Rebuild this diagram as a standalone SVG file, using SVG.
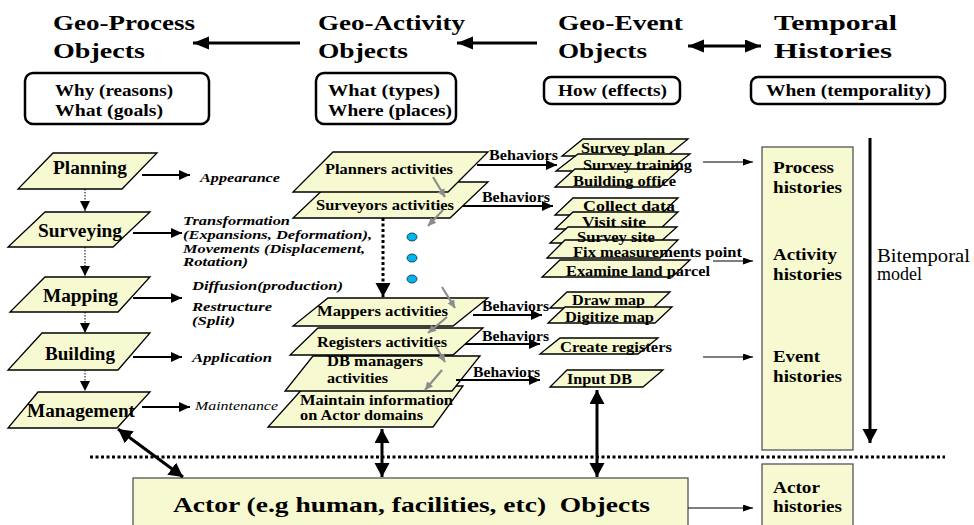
<svg xmlns="http://www.w3.org/2000/svg" width="974" height="525" viewBox="0 0 974 525">
<defs>
<style>
text{font-family:"Liberation Serif","Times New Roman",serif;fill:#000}
.hd{font-size:21px;font-weight:bold}
.bt{font-size:16px;font-weight:bold}
.nt{font-size:18px;font-weight:bold}
.mt{font-size:15px;font-weight:bold}
.rt{font-size:15px;font-weight:bold}
.bh{font-size:14.5px;font-weight:bold}
.it{font-size:13px;font-weight:bold;font-style:italic}
.ht{font-size:16px;font-weight:bold}
.bx{fill:#fff;stroke:#000;stroke-width:2.5}
.n{fill:#f7f9d0;stroke:#000;stroke-width:1.3}
.hb{fill:#f7f9d0;stroke:#555;stroke-width:1.3}
.a3{fill:none;stroke:#000;stroke-width:3}
.a2{fill:none;stroke:#000;stroke-width:2}
.a1{fill:none;stroke:#000;stroke-width:1.1}
.dt{fill:none;stroke:#000;stroke-width:1;stroke-dasharray:1.5,1.5}
.dk{fill:none;stroke:#000;stroke-width:3;stroke-dasharray:3,2.5}
.gr{fill:none;stroke:#8c8c8c;stroke-width:2.2}
.dot{fill:#00b4f0;stroke:#123;stroke-width:0.8}
</style>
<marker id="big" markerUnits="userSpaceOnUse" markerWidth="17" markerHeight="14" refX="16" refY="6.5" orient="auto-start-reverse"><path d="M0,0L16,6.5L0,13z"/></marker>
<marker id="med" markerUnits="userSpaceOnUse" markerWidth="12" markerHeight="11" refX="11" refY="5" orient="auto-start-reverse"><path d="M0,0L11,5L0,10z"/></marker>
<marker id="thk" markerUnits="userSpaceOnUse" markerWidth="15" markerHeight="16" refX="14" refY="7.5" orient="auto-start-reverse"><path d="M0,0L14,7.5L0,15z"/></marker>
<marker id="thin" markerUnits="userSpaceOnUse" markerWidth="11" markerHeight="8" refX="10" refY="3.5" orient="auto-start-reverse"><path d="M0,0L10,3.5L0,7z"/></marker>
<marker id="dtm" markerUnits="userSpaceOnUse" markerWidth="11" markerHeight="11" refX="10" refY="5" orient="auto-start-reverse"><path d="M0,0L10,5L0,10z"/></marker>
<marker id="gm" markerUnits="userSpaceOnUse" markerWidth="9" markerHeight="9" refX="8" refY="4" orient="auto-start-reverse"><path d="M0,0L8,4L0,8z" fill="#8c8c8c"/></marker>
</defs>
<rect width="974" height="525" fill="#fff"/>

<g id="headers">
<text class="hd" x="53" y="30" textLength="142" lengthAdjust="spacingAndGlyphs">Geo-Process</text>
<text class="hd" x="53" y="58" textLength="92" lengthAdjust="spacingAndGlyphs">Objects</text>
<text class="hd" x="318" y="30" textLength="147" lengthAdjust="spacingAndGlyphs">Geo-Activity</text>
<text class="hd" x="318" y="58" textLength="90" lengthAdjust="spacingAndGlyphs">Objects</text>
<text class="hd" x="558" y="30" textLength="125" lengthAdjust="spacingAndGlyphs">Geo-Event</text>
<text class="hd" x="558" y="58" textLength="89" lengthAdjust="spacingAndGlyphs">Objects</text>
<text class="hd" x="774" y="30" textLength="123" lengthAdjust="spacingAndGlyphs">Temporal</text>
<text class="hd" x="774" y="58" textLength="118" lengthAdjust="spacingAndGlyphs">Histories</text>
</g>

<g id="boxes">
<g id="box-why"><rect class="bx" x="25" y="73" width="184" height="51" rx="8"/>
<text class="bt" x="55" y="96" textLength="118" lengthAdjust="spacingAndGlyphs">Why (reasons)</text>
<text class="bt" x="55" y="116" textLength="108" lengthAdjust="spacingAndGlyphs">What (goals)</text></g>
<g id="box-what"><rect class="bx" x="316" y="73" width="140" height="51" rx="8"/>
<text class="bt" x="328" y="96" textLength="112" lengthAdjust="spacingAndGlyphs">What (types)</text>
<text class="bt" x="328" y="116" textLength="124" lengthAdjust="spacingAndGlyphs">Where (places)</text></g>
<g id="box-how"><rect class="bx" x="544" y="77" width="136" height="27" rx="7"/>
<text class="bt" x="558" y="96" textLength="109" lengthAdjust="spacingAndGlyphs">How (effects)</text></g>
<g id="box-when"><rect class="bx" x="751" y="77" width="194" height="27" rx="7"/>
<text class="bt" x="766" y="96" textLength="165" lengthAdjust="spacingAndGlyphs">When (temporality)</text></g>
</g>

<g id="process-nodes">
<g id="n-planning"><polygon class="n" points="53,153 157,153 122,189 18,189"/>
<text class="nt" x="53" y="174" textLength="74" lengthAdjust="spacingAndGlyphs">Planning</text></g>
<g id="n-surveying"><polygon class="n" points="45,212 150,212 113,247 8,247"/>
<text class="nt" x="38" y="237" textLength="84" lengthAdjust="spacingAndGlyphs">Surveying</text></g>
<g id="n-mapping"><polygon class="n" points="45,277 150,277 118,312 10,312"/>
<text class="nt" x="43" y="302" textLength="75" lengthAdjust="spacingAndGlyphs">Mapping</text></g>
<g id="n-building"><polygon class="n" points="42,333 150,333 118,370 8,370"/>
<text class="nt" x="45" y="360" textLength="70" lengthAdjust="spacingAndGlyphs">Building</text></g>
<g id="n-management"><polygon class="n" points="38,392 150,392 117,428 8,428"/>
<text class="nt" x="27" y="417" textLength="108" lengthAdjust="spacingAndGlyphs">Management</text></g>
</g>

<g id="effect-labels">
<text class="it" x="200" y="182" textLength="80" lengthAdjust="spacingAndGlyphs">Appearance</text>
<text class="it" x="183" y="225" textLength="107" lengthAdjust="spacingAndGlyphs">Transformation</text>
<text class="it" x="183" y="239" textLength="189" lengthAdjust="spacingAndGlyphs">(Expansions, Deformation),</text>
<text class="it" x="183" y="253" textLength="182" lengthAdjust="spacingAndGlyphs">Movements (Displacement,</text>
<text class="it" x="183" y="266" textLength="65" lengthAdjust="spacingAndGlyphs">Rotation)</text>
<text class="it" x="192" y="290" textLength="151" lengthAdjust="spacingAndGlyphs">Diffusion(production)</text>
<text class="it" x="192" y="311" textLength="80" lengthAdjust="spacingAndGlyphs">Restructure</text>
<text class="it" x="192" y="325" textLength="43" lengthAdjust="spacingAndGlyphs">(Split)</text>
<text class="it" x="192" y="362" textLength="80" lengthAdjust="spacingAndGlyphs">Application</text>
<text x="195" y="410" font-size="13" font-style="italic" textLength="83" lengthAdjust="spacingAndGlyphs">Maintenance</text>
</g>

<g id="activity-nodes">
<g id="n-maintain"><polygon class="n" points="305,386 463,386 433,427 268,427"/>
<text class="mt" x="300" y="405" font-size="14" textLength="153" lengthAdjust="spacingAndGlyphs" style="font-size:14px">Maintain information</text>
<text class="mt" x="300" y="420" textLength="123" lengthAdjust="spacingAndGlyphs" style="font-size:14px">on Actor domains</text></g>
<g id="n-dbmanagers"><polygon class="n" points="313,356 480,356 452,391 285,391"/>
<text class="mt" x="327" y="366" textLength="96" lengthAdjust="spacingAndGlyphs">DB managers</text>
<text class="mt" x="327" y="383" textLength="61" lengthAdjust="spacingAndGlyphs">activities</text></g>
<g id="n-registers"><polygon class="n" points="318,328 483,328 453,355 290,355"/>
<text class="mt" x="317" y="347" textLength="130" lengthAdjust="spacingAndGlyphs">Registers activities</text></g>
<g id="n-mappers"><polygon class="n" points="328,298 488,298 453,326 293,326"/>
<text class="mt" x="317" y="316" textLength="131" lengthAdjust="spacingAndGlyphs">Mappers activities</text></g>
<g id="n-surveyors"><polygon class="n" points="331,182 488,182 450,218 293,218"/>
<text class="mt" x="316" y="210" textLength="138" lengthAdjust="spacingAndGlyphs">Surveyors activities</text></g>
<g id="n-planners"><polygon class="n" points="333,152 488,152 448,192 293,192"/>
<text class="mt" x="325" y="174" textLength="128" lengthAdjust="spacingAndGlyphs">Planners activities</text></g>
<g id="ellipsis">
<ellipse class="dot" cx="412" cy="237" rx="5" ry="4"/>
<ellipse class="dot" cx="412" cy="258" rx="5" ry="4"/>
<ellipse class="dot" cx="412" cy="279" rx="5" ry="4"/>
</g>
</g>

<g id="event-nodes">
<g id="n-surveyplan"><polygon class="n" points="583,139 688,139 667,156 562,156"/></g>
<g id="n-surveytraining"><polygon class="n" points="578,154 690,154 668,171 556,171"/></g>
<g id="n-buildingoffice"><polygon class="n" points="575,169 680,169 660,187 555,187"/></g>
<g id="n-collectdata"><polygon class="n" points="573,198 678,198 660,215 555,215"/></g>
<g id="n-visitsite"><polygon class="n" points="573,212 678,212 660,229 555,229"/></g>
<g id="n-surveysite"><polygon class="n" points="568,227 677,227 659,243 550,243"/></g>
<g id="n-fixpoint"><polygon class="n" points="565,240 678,240 660,258 547,258"/></g>
<g id="n-examine"><polygon class="n" points="560,260 690,260 672,277 542,277"/></g>
<g id="n-drawmap"><polygon class="n" points="567,292 670,292 653,308 550,308"/></g>
<g id="n-digitize"><polygon class="n" points="565,307 672,307 655,323 548,323"/></g>
<g id="n-createreg"><polygon class="n" points="560,338 658,338 638,354 540,354"/></g>
<g id="n-inputdb"><polygon class="n" points="567,370 663,370 643,387 550,387"/></g>
<g id="event-texts">
<text class="rt" x="581" y="153" textLength="84" lengthAdjust="spacingAndGlyphs">Survey plan</text>
<text class="rt" x="583" y="170" textLength="109" lengthAdjust="spacingAndGlyphs">Survey training</text>
<text class="rt" x="573" y="186" textLength="103" lengthAdjust="spacingAndGlyphs">Building office</text>
<text class="rt" x="583" y="211" textLength="92" lengthAdjust="spacingAndGlyphs">Collect data</text>
<text class="rt" x="582" y="227" textLength="64" lengthAdjust="spacingAndGlyphs">Visit site</text>
<text class="rt" x="577" y="242" textLength="78" lengthAdjust="spacingAndGlyphs">Survey site</text>
<text class="rt" x="573" y="257" textLength="169" lengthAdjust="spacingAndGlyphs">Fix measurements point</text>
<text class="rt" x="566" y="276" textLength="144" lengthAdjust="spacingAndGlyphs">Examine land parcel</text>
<text class="rt" x="572" y="305" textLength="73" lengthAdjust="spacingAndGlyphs">Draw map</text>
<text class="rt" x="565" y="322" textLength="89" lengthAdjust="spacingAndGlyphs">Digitize map</text>
<text class="rt" x="560" y="352" textLength="112" lengthAdjust="spacingAndGlyphs">Create registers</text>
<text class="rt" x="567" y="384" textLength="65" lengthAdjust="spacingAndGlyphs">Input DB</text>
</g>
</g>

<g id="histories">
<g id="n-histories"><rect class="hb" x="762" y="147" width="91" height="303"/>
<text class="ht" x="773" y="173" textLength="61" lengthAdjust="spacingAndGlyphs">Process</text>
<text class="ht" x="773" y="193" textLength="69" lengthAdjust="spacingAndGlyphs">histories</text>
<text class="ht" x="773" y="260" textLength="64" lengthAdjust="spacingAndGlyphs">Activity</text>
<text class="ht" x="773" y="280" textLength="69" lengthAdjust="spacingAndGlyphs">histories</text>
<text class="ht" x="773" y="362" textLength="47" lengthAdjust="spacingAndGlyphs">Event</text>
<text class="ht" x="773" y="382" textLength="69" lengthAdjust="spacingAndGlyphs">histories</text></g>
<g id="n-actorhist"><rect class="hb" x="762" y="464" width="91" height="70"/>
<text class="ht" x="773" y="493" textLength="47" lengthAdjust="spacingAndGlyphs">Actor</text>
<text class="ht" x="773" y="512" textLength="69" lengthAdjust="spacingAndGlyphs">histories</text></g>
<g id="bitemporal">
<text x="877" y="262" font-size="18" textLength="93" lengthAdjust="spacingAndGlyphs">Bitemporal</text>
<text x="877" y="280" font-size="18">model</text>
</g>
</g>

<g id="n-actor"><rect class="hb" x="133" y="478" width="555" height="60"/>
<text x="173" y="512" font-size="22" font-weight="bold" xml:space="preserve" textLength="477" lengthAdjust="spacingAndGlyphs">Actor (e.g human, facilities, etc)  Objects</text></g>

<g id="connectors">
<line class="a3" x1="300" y1="43" x2="193" y2="43" marker-end="url(#big)"/>
<line class="a3" x1="537" y1="43" x2="457" y2="43" marker-end="url(#big)"/>
<line class="a3" x1="688" y1="46" x2="761" y2="46" marker-start="url(#big)" marker-end="url(#big)"/>

<line class="dt" x1="85" y1="189" x2="85" y2="211" marker-end="url(#dtm)"/>
<line class="dt" x1="85" y1="247" x2="85" y2="276" marker-end="url(#dtm)"/>
<line class="dt" x1="85" y1="312" x2="85" y2="333" marker-end="url(#dtm)"/>
<line class="dt" x1="85" y1="370" x2="85" y2="391" marker-end="url(#dtm)"/>

<line class="a2" x1="142" y1="175" x2="190" y2="175" marker-end="url(#med)"/>
<line class="a2" x1="133" y1="233" x2="182" y2="233" marker-end="url(#med)"/>
<line class="a2" x1="133" y1="298" x2="182" y2="298" marker-end="url(#med)"/>
<line class="a2" x1="133" y1="357" x2="182" y2="357" marker-end="url(#med)"/>
<line class="a2" x1="142" y1="407" x2="190" y2="407" marker-end="url(#med)"/>

<line class="gr" x1="433" y1="177" x2="445" y2="197" marker-end="url(#gm)"/>
<line class="gr" x1="443" y1="210" x2="428" y2="226" marker-end="url(#gm)"/>
<line class="gr" x1="442" y1="287" x2="455" y2="308" marker-end="url(#gm)"/>
<line class="gr" x1="447" y1="317" x2="428" y2="333" marker-end="url(#gm)"/>
<line class="gr" x1="435" y1="345" x2="445" y2="362" marker-end="url(#gm)"/>
<line class="gr" x1="442" y1="370" x2="425" y2="390" marker-end="url(#gm)"/>

<line class="dk" x1="383" y1="218" x2="383" y2="297" marker-end="url(#thk)"/>

<g id="behaviors">
<text class="bh" x="489" y="160" textLength="69" lengthAdjust="spacingAndGlyphs">Behaviors</text>
<line class="a2" x1="477" y1="165" x2="557" y2="165" marker-end="url(#med)"/>
<text class="bh" x="482" y="202" textLength="68" lengthAdjust="spacingAndGlyphs">Behaviors</text>
<line class="a2" x1="463" y1="206" x2="553" y2="206" marker-end="url(#med)"/>
<text class="bh" x="482" y="311" textLength="67" lengthAdjust="spacingAndGlyphs">Behaviors</text>
<line class="a2" x1="473" y1="315" x2="542" y2="315" marker-end="url(#med)"/>
<text class="bh" x="482" y="341" textLength="67" lengthAdjust="spacingAndGlyphs">Behaviors</text>
<line class="a2" x1="465" y1="344" x2="540" y2="344" marker-end="url(#med)"/>
<text class="bh" x="473" y="377" textLength="67" lengthAdjust="spacingAndGlyphs">Behaviors</text>
<line class="a2" x1="456" y1="380" x2="540" y2="380" marker-end="url(#med)"/>
</g>

<line class="a1" x1="703" y1="162" x2="753" y2="162" marker-end="url(#thin)"/>
<line class="a1" x1="713" y1="261" x2="753" y2="261" marker-end="url(#thin)"/>
<line class="a1" x1="703" y1="357" x2="753" y2="357" marker-end="url(#thin)"/>
<line class="a1" x1="688" y1="508" x2="753" y2="508" marker-end="url(#thin)"/>

<line class="a3" x1="870" y1="138" x2="870" y2="443" marker-end="url(#thk)"/>

<line class="dk" x1="90" y1="457" x2="945" y2="457"/>

<line class="a3" x1="118" y1="429" x2="183" y2="477" marker-start="url(#thk)" marker-end="url(#thk)"/>
<line class="a3" x1="382" y1="429" x2="382" y2="477" marker-start="url(#thk)" marker-end="url(#thk)"/>
<line class="a3" x1="597" y1="390" x2="597" y2="477" marker-start="url(#thk)" marker-end="url(#thk)"/>
</g>
</svg>
